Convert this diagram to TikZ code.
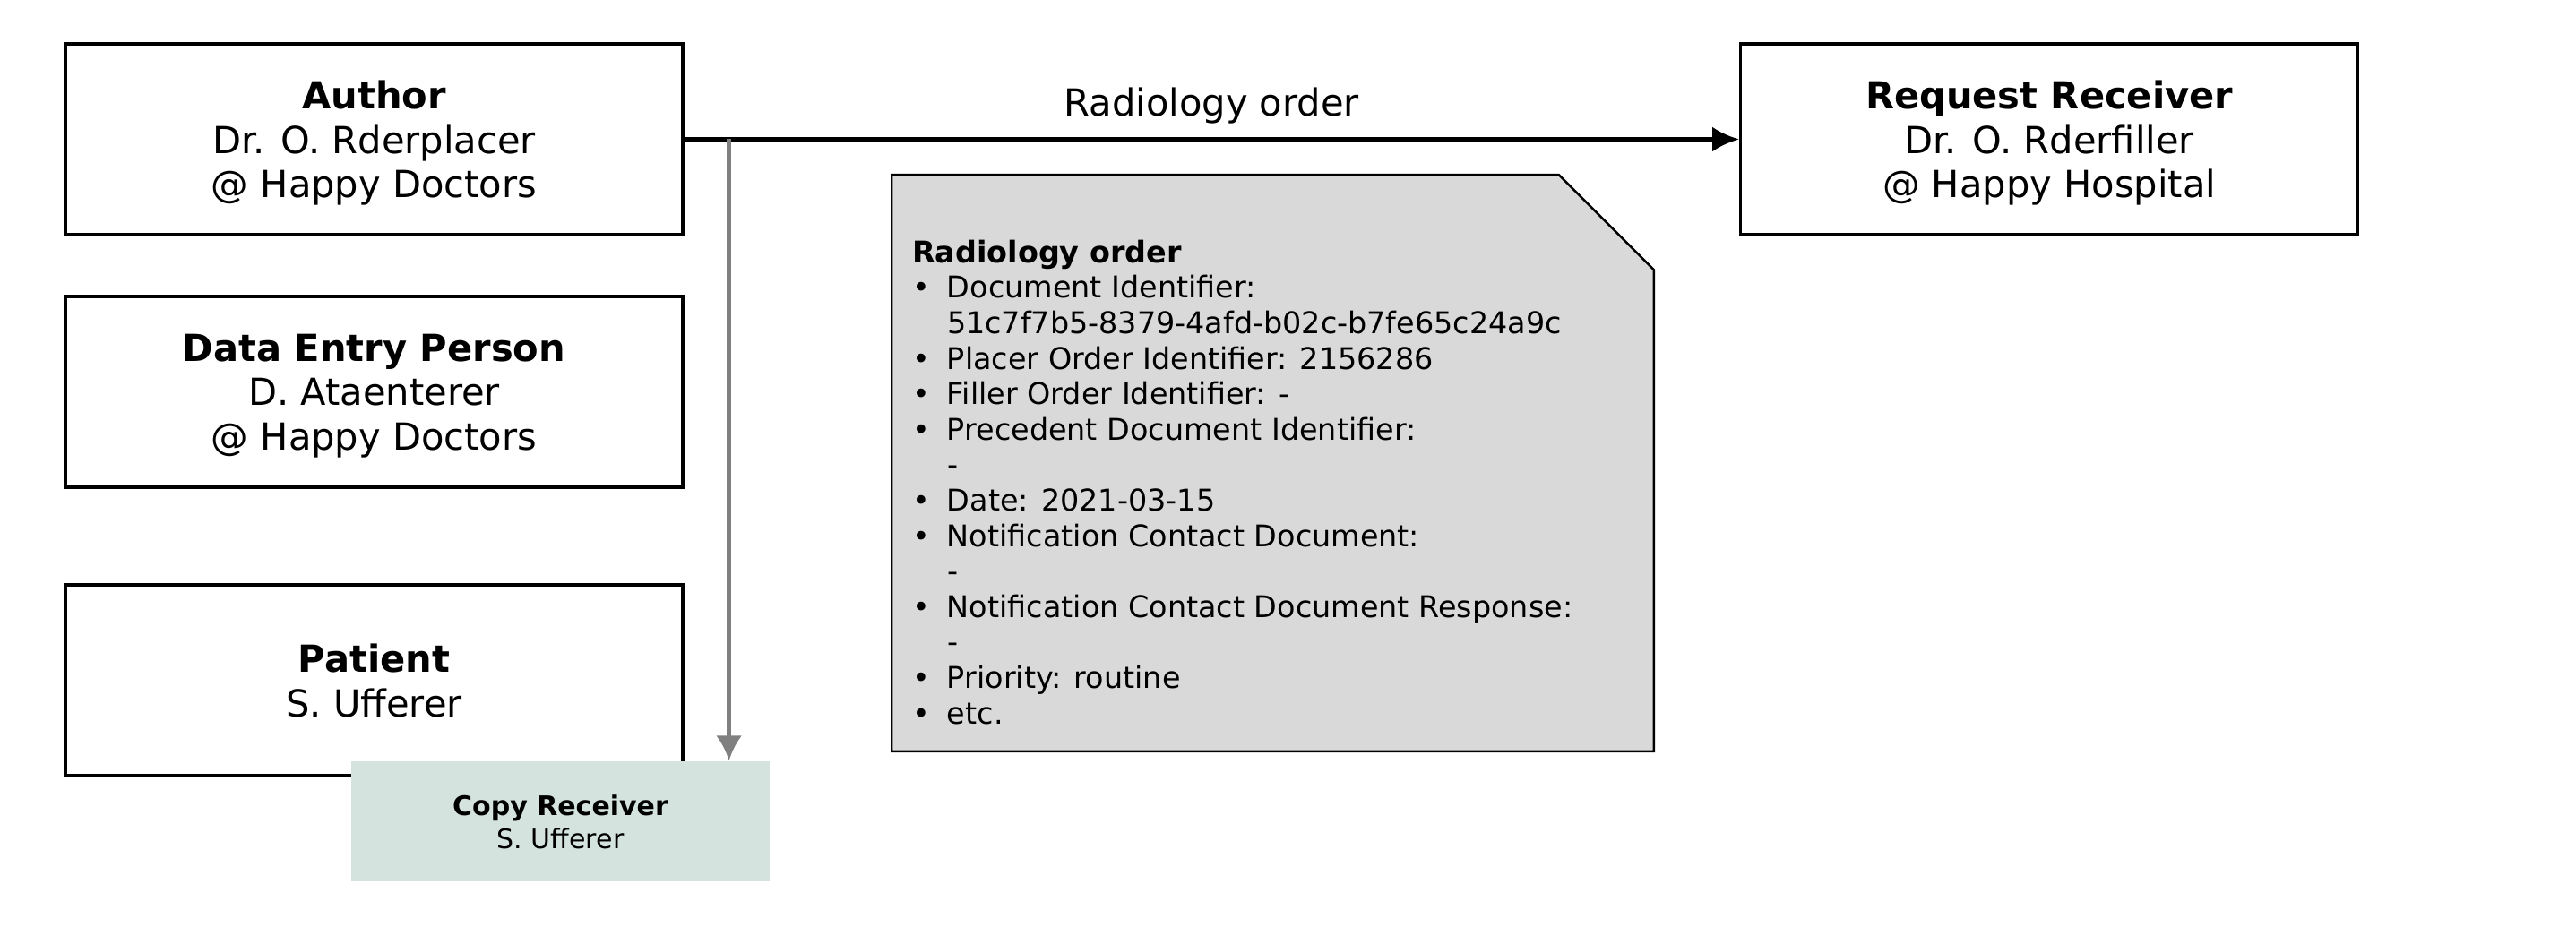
\documentclass[tikz,border=0pt]{standalone}
\usepackage{fontspec}
\setmainfont{DejaVu Sans}
\usepackage{xcolor}
\usetikzlibrary{positioning,arrows.meta,calc}
\definecolor{copyfill}{RGB}{213,227,222}
\definecolor{docfill}{RGB}{217,217,217}
\newcommand{\docitem}[1]{\makebox[9.75pt][l]{\textbullet}#1}
\newcommand{\docmore}[1]{\hspace*{9.75pt}#1}

\begin{document}
\begin{tikzpicture}[on grid,
  role/.style={draw,line width=0.8pt,fill=white,minimum width=172.25pt,minimum height=53.25pt,inner sep=0pt,align=center,text depth=0pt,font=\fontsize{10.4}{12.4}\selectfont},
  copybox/.style={fill=copyfill,minimum width=116.75pt,minimum height=33.5pt,inner sep=0pt,align=center,text depth=-1.4pt,font=\fontsize{7.5}{9.25}\selectfont},
  msg/.style={-{Latex[length=7.5pt,width=7pt]},line width=1.2pt},
  cc/.style={-{Latex[length=7pt,width=7.25pt]},line width=1.1pt,color=gray}]
\useasboundingbox (0,0) rectangle (718.75pt,-258.75pt);
% roles
\node[role] (author) at (104.375pt,-38.875pt) {\textbf{Author}\\Dr. O. Rderplacer\\@ Happy Doctors};
\node[role,below=70.5pt of author] (entry) {\textbf{Data Entry Person}\\D. Ataenterer\\@ Happy Doctors};
\node[role,below=80.5pt of entry] (patient) {\textbf{Patient}\\S. Ufferer};
\node[role,right=467.4pt of author] (receiver) {\textbf{Request Receiver}\\Dr. O. Rderfiller\\@ Happy Hospital};
\node[copybox,below right=39.4pt and 52pt of patient] (copy) {\textbf{Copy Receiver}\\S. Ufferer};
% document
\node[minimum width=212.25pt,minimum height=160.5pt,inner sep=0pt,below right=90.375pt and 250.75pt of author] (docbox) {};
\filldraw[fill=docfill,line width=0.6pt] (docbox.south west) |- ($(docbox.north east)+(-26.5pt,0)$)
  -- ($(docbox.north east)+(0,-26.5pt)$) -- (docbox.south east) -- cycle;
\node[anchor=north west,inner sep=0pt,align=left,font=\fontsize{8.35}{9.9}\selectfont] (doctext)
  at ($(docbox.north west)+(5.5pt,-18pt)$) {\textbf{Radiology order}\\
  \docitem{Document Identifier:}\\
  \docmore{51c7f7b5-8379-4afd-b02c-b7fe65c24a9c}\\
  \docitem{Placer Order Identifier: 2156286}\\
  \docitem{Filler Order Identifier: -}\\
  \docitem{Precedent Document Identifier:}\\
  \docmore{-}\\
  \docitem{Date: 2021-03-15}\\
  \docitem{Notification Contact Document:}\\
  \docmore{-}\\
  \docitem{Notification Contact Document Response:}\\
  \docmore{-}\\
  \docitem{Priority: routine}\\
  \docitem{etc.}};
% flows
\draw[msg] (author.east) -- node[midway,above,inner sep=3.7pt,font=\fontsize{10.4}{12.4}\selectfont] (msglabel) {Radiology order} (receiver.west);
\coordinate[right=12.5pt of author.east] (split);
\draw[cc] (split) -- (split |- copy.north);
\end{tikzpicture}
\end{document}
